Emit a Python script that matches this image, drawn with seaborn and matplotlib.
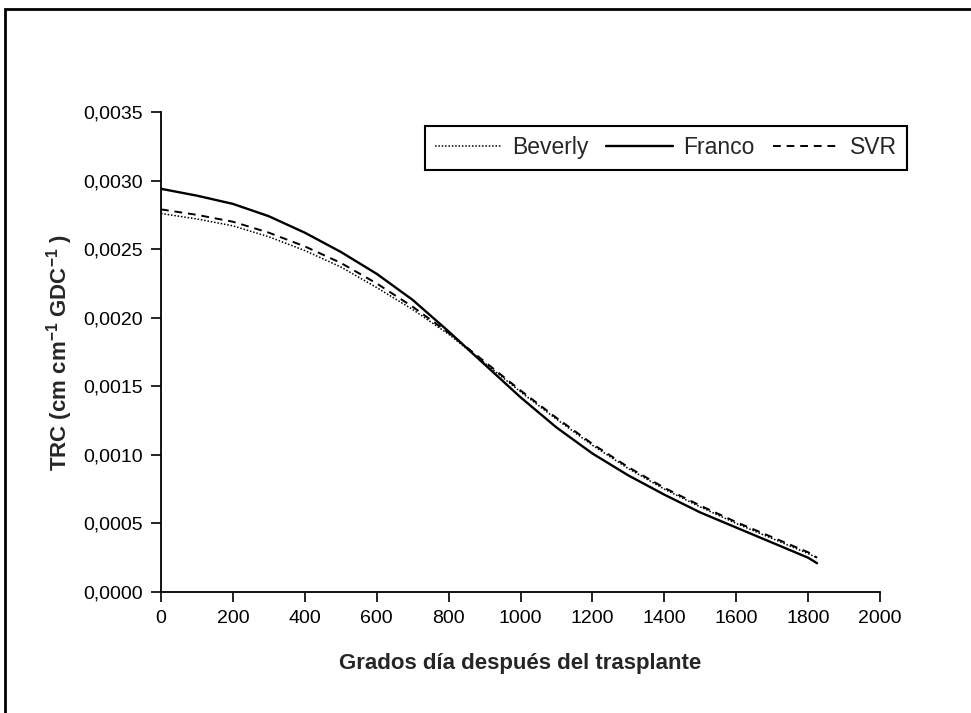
import matplotlib
matplotlib.use("Agg")
import matplotlib.pyplot as plt
import matplotlib.ticker as mticker
from matplotlib.patches import Rectangle
import seaborn as sns
import pandas as pd

# Data
gdd = [0, 100, 200, 300, 400, 500, 600, 700, 800, 900, 1000, 1100, 1200,
       1300, 1400, 1500, 1600, 1700, 1800, 1825]
beverly = [0.00276, 0.00272, 0.00267, 0.00259, 0.00249, 0.00237, 0.00222,
           0.00206, 0.00188, 0.00167, 0.00146, 0.00126, 0.00107, 0.00090,
           0.00075, 0.00062, 0.00050, 0.00039, 0.00028, 0.00025]
franco = [0.00294, 0.00289, 0.00283, 0.00274, 0.00262, 0.00248, 0.00232,
          0.00213, 0.00190, 0.00166, 0.00142, 0.00120, 0.00101, 0.00085,
          0.00071, 0.00058, 0.00047, 0.00036, 0.00025, 0.00021]
svr = [0.00279, 0.00275, 0.00270, 0.00262, 0.00252, 0.00240, 0.00225,
       0.00208, 0.00189, 0.00168, 0.00147, 0.00127, 0.00108, 0.00091,
       0.00076, 0.00063, 0.00051, 0.00040, 0.00029, 0.00025]
series_names = ["Beverly", "Franco", "SVR"]
x_ticks = list(range(0, 2001, 200))
y_ticks = [0.0, 0.0005, 0.0010, 0.0015, 0.0020, 0.0025, 0.0030, 0.0035]

sns.set_theme(style="white")
plt.rcParams["font.family"] = ["Liberation Sans", "DejaVu Sans"]
plt.rcParams["mathtext.default"] = "regular"

df = pd.DataFrame({
    "gdd": gdd * 3,
    "trc": beverly + franco + svr,
    "Cultivar": sum([[n] * len(gdd) for n in series_names], []),
})

fig = plt.figure(figsize=(9.71, 7.13), dpi=100)
ax = fig.add_axes([161 / 971, 1 - 592 / 713, (880 - 161) / 971, (592 - 112) / 713])

styles = {
    "Beverly": dict(linestyle=(0, (1, 1.2)), linewidth=1.1),
    "Franco": dict(linestyle="-", linewidth=1.7),
    "SVR": dict(linestyle=(0, (4, 3)), linewidth=1.4),
}
for name in series_names:
    sub = df[df["Cultivar"] == name]
    sns.lineplot(data=sub, x="gdd", y="trc", ax=ax, color="black",
                 label=name, **styles[name])

ax.set_xlim(0, 2000)
ax.set_ylim(0, 0.0035)
ax.set_xticks(x_ticks)
ax.set_yticks(y_ticks)
ax.yaxis.set_major_formatter(mticker.FuncFormatter(
    lambda v, p: f"{v:.4f}".replace(".", ",")))
ax.tick_params(axis="both", which="major", labelsize=14, direction="out",
               length=7, width=1.2, colors="black", bottom=True, left=True,
               pad=6)

for s in ["top", "right"]:
    ax.spines[s].set_visible(False)
for s in ["left", "bottom"]:
    ax.spines[s].set_color("black")
    ax.spines[s].set_linewidth(1.3)

ax.set_xlabel("Grados día después del trasplante", fontsize=16,
              fontweight="bold", labelpad=19)
ax.set_ylabel("TRC (cm cm$^{-1}$ GDC$^{-1}$ )", fontsize=16,
              fontweight="bold", labelpad=6)

leg = ax.legend(loc="upper right", bbox_to_anchor=(907 / 971, 1 - 126 / 713),
                bbox_transform=fig.transFigure, ncol=3, fontsize=16.5,
                frameon=True, fancybox=False, handlelength=2.9,
                handletextpad=0.45, columnspacing=0.8, borderpad=0.45,
                borderaxespad=0)
leg.get_frame().set_edgecolor("black")
leg.get_frame().set_linewidth(1.5)
leg.get_frame().set_facecolor("white")
leg.get_frame().set_alpha(1)

# Outer border of the figure frame (cut off at right and bottom)
fig.patches.append(Rectangle((5 / 971, -0.05), 1.1, 1.05 - 9 / 713,
                             transform=fig.transFigure, fill=False,
                             edgecolor="black", linewidth=2, zorder=0))

fig.savefig("out.png", dpi=100, facecolor="white")
